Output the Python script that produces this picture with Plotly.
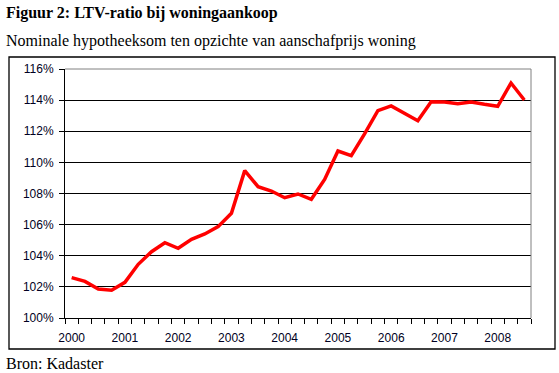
import plotly.graph_objects as go

quarters = [f"{y}Q{q}" for y in range(2000, 2009) for q in range(1, 5)][:35]
ltv = [102.59, 102.35, 101.86, 101.78, 102.29, 103.45, 104.26, 104.84, 104.48, 105.06,
       105.40, 105.87, 106.73, 109.47, 108.44, 108.16, 107.73, 107.97, 107.63, 108.90,
       110.73, 110.43, 111.83, 113.32, 113.63, 113.16, 112.68, 113.90, 113.88, 113.77,
       113.88, 113.73, 113.60, 115.10, 114.01]
year_labels = [q[:4] if q.endswith("Q1") else "" for q in quarters]
y_ticks = [100, 102, 104, 106, 108, 110, 112, 114, 116]

W, H = 559, 373
L, R, T, B = 65, 28, 69, 55
pw, ph = W - L - R, H - T - B

def px(x):
    return (x - L) / pw

def py(y):
    return (H - B - y) / ph

fig = go.Figure()
fig.add_trace(go.Scatter(
    x=quarters, y=ltv, mode="lines",
    line=dict(color="#FF0000", width=3.5),
    hoverinfo="skip", showlegend=False,
))

tick_font = dict(family="Liberation Sans, Arial, sans-serif", size=12, color="#000022")
fig.update_layout(
    width=W, height=H,
    margin=dict(l=L, r=R, t=T, b=B, autoexpand=False),
    paper_bgcolor="white", plot_bgcolor="white",
    xaxis=dict(
        type="category", categoryorder="array", categoryarray=quarters,
        tickmode="array", tickvals=quarters, ticktext=year_labels, tickangle=0,
        tickson="boundaries", ticks="outside", ticklen=5, tickcolor="black", tickwidth=1,
        showgrid=False, showline=True, linecolor="black", linewidth=1,
        tickfont=tick_font, range=[-0.5, 34.5], zeroline=False, automargin=False,
        ticklabelstandoff=9,
    ),
    yaxis=dict(
        range=[100, 116], tickmode="array", tickvals=y_ticks,
        ticktext=[f"{v}%" for v in y_ticks],
        ticks="outside", ticklen=5, tickcolor="black", tickwidth=1,
        showgrid=True, gridcolor="black", gridwidth=1,
        showline=True, linecolor="black", linewidth=1,
        tickfont=tick_font, zeroline=False, ticklabelstandoff=3, automargin=False,
    ),
    shapes=[
        dict(type="line", xref="paper", yref="paper", x0=0, x1=1, y0=1, y1=1,
             line=dict(color="#808080", width=1), layer="above"),
        dict(type="line", xref="paper", yref="paper", x0=1, x1=1, y0=0, y1=1,
             line=dict(color="#808080", width=1), layer="above"),
        dict(type="rect", xref="paper", yref="paper",
             x0=px(9), x1=px(555), y0=py(349), y1=py(57),
             line=dict(color="black", width=1.3), fillcolor="rgba(0,0,0,0)"),
    ],
    annotations=[
        dict(text="<b>Figuur 2: LTV-ratio bij woningaankoop</b>", xref="paper", yref="paper",
             x=px(4), y=py(13), xanchor="left", yanchor="middle", showarrow=False,
             font=dict(family="Liberation Serif, Times New Roman, serif", size=16, color="black")),
        dict(text="Nominale hypotheeksom ten opzichte van aanschafprijs woning", xref="paper", yref="paper",
             x=px(4), y=py(41), xanchor="left", yanchor="middle", showarrow=False,
             font=dict(family="Liberation Serif, Times New Roman, serif", size=16, color="black")),
        dict(text="Bron: Kadaster", xref="paper", yref="paper",
             x=px(4), y=py(363), xanchor="left", yanchor="middle", showarrow=False,
             font=dict(family="Liberation Serif, Times New Roman, serif", size=16, color="black")),
    ],
)

fig.write_html("out.html", config={"displayModeBar": False, "staticPlot": True},
               post_script="document.body.style.margin='0';document.body.style.overflow='hidden';")
